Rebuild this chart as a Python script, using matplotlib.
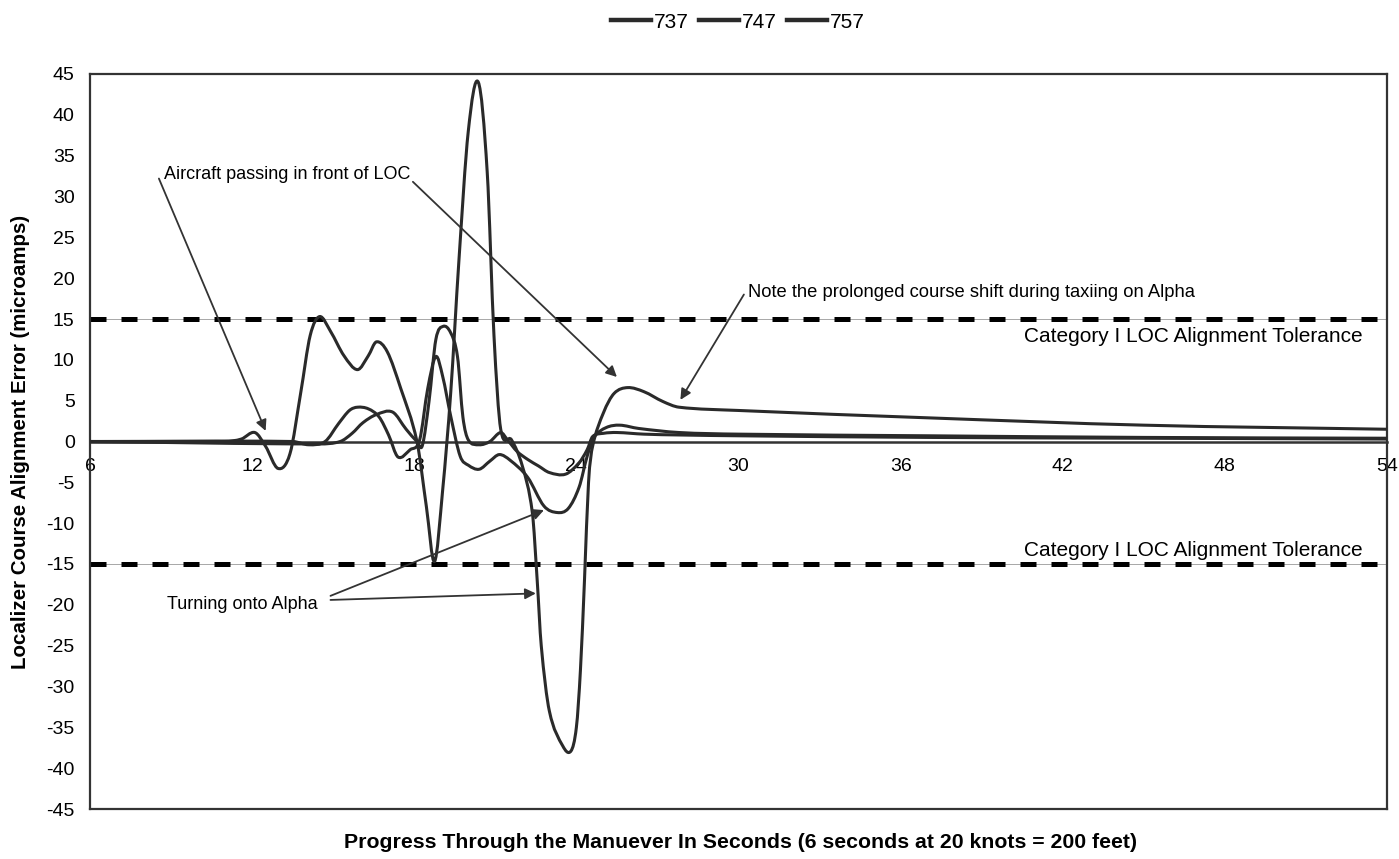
import matplotlib
matplotlib.use('Agg')
import matplotlib.pyplot as plt
from matplotlib.path import Path
from matplotlib.patches import PathPatch
from matplotlib.lines import Line2D
import numpy as np

plt.rcParams['font.family'] = ['Liberation Sans Narrow', 'Liberation Sans', 'DejaVu Sans']
plt.rcParams['axes.unicode_minus'] = False

# values (seconds, microamps)
x_737 = [6, 11.0, 11.6, 12.1, 12.5, 12.96, 13.4, 13.8, 14.15, 14.5, 14.9, 15.4, 15.9, 16.3, 16.6,
         17.0, 17.5, 18.1, 18.45, 18.75, 19.05, 19.35, 19.65, 20.0, 20.37, 20.7, 20.95, 21.2,
         21.6, 22.0, 22.37, 22.55, 22.7, 23.0, 23.5, 23.8, 24.0, 24.15, 24.3, 24.45, 24.6,
         25.0, 25.4, 25.9, 26.5, 27.2, 27.8, 30, 37, 45, 54]
y_737 = [0, 0, 0.3, 1.1, -0.6, -3.3, -1.5, 6, 13, 15.3, 13.5, 10.5, 8.8, 10.5, 12.2,
         11, 6.5, 0, -8, -14.7, -6, 6, 22, 38, 44, 33, 13, 1.5,
         0.2, -3.0, -8.7, -17, -25, -33, -37.3, -37.9, -35, -28, -17, -5, -0.6,
         3.5, 5.9, 6.6, 6.1, 4.9, 4.2, 3.8, 2.9, 2.0, 1.5]

x_747 = [6, 13.5, 14.1, 14.7, 15.2, 15.6, 15.9, 16.3, 16.7, 17.05, 17.4, 17.85, 18.2, 18.5, 18.8,
         19.05, 19.35, 19.7, 20.0, 20.4, 20.8, 21.15, 21.55, 22.2, 22.8, 23.3, 23.7, 24.1,
         24.4, 24.65, 25.1, 25.6, 26.3, 27.8, 30, 37, 45, 54]
y_747 = [0, 0, -0.4, 0, 2.2, 3.8, 4.2, 4.0, 3.0, 0.8, -1.9, -1.0, 0.2, 6.5, 10.4,
         8.0, 3.1, -1.8, -2.9, -3.4, -2.4, -1.6, -2.3, -4.4, -7.9, -8.7, -8.2, -5.6,
         -1.8, 0.5, 1.7, 2.0, 1.6, 1.1, 0.9, 0.7, 0.5, 0.4]

x_757 = [6, 14.5, 15.26, 15.7, 16.1, 16.6, 17.2, 17.7, 18.1, 18.3, 18.55, 18.8, 19.07, 19.35,
         19.6, 19.8, 20.0, 20.4, 20.8, 21.2, 21.45, 21.8, 22.2, 22.6, 23.0, 23.6, 24.1,
         24.4, 24.6, 25.0, 25.5, 26.5, 27.8, 30, 37, 45, 54]
y_757 = [0, -0.3, 0, 1.0, 2.3, 3.3, 3.6, 1.5, 0, -0.5, 5, 12.5, 14.1, 13.3,
         10.4, 3, 0.2, -0.4, 0, 1.1, 0.2, -1.2, -2.2, -3.0, -3.8, -4.0, -2.6,
         -1.0, 0.6, 1.0, 1.1, 0.9, 0.8, 0.7, 0.5, 0.4, 0.3]

series_names = ['737', '747', '757']
x_ticks = [6, 12, 18, 24, 30, 36, 42, 48, 54]
tolerance = 15

line_color = '#2a2a2a'


def smooth_path(xs, ys):
    # smoothed line like the spreadsheet option: cubic hermite segments between the points
    xs = np.asarray(xs, float)
    ys = np.asarray(ys, float)
    n = len(xs)
    m = np.zeros(n)
    for i in range(n):
        a = max(i - 1, 0)
        b = min(i + 1, n - 1)
        m[i] = (ys[b] - ys[a]) / (xs[b] - xs[a])
    verts = [(xs[0], ys[0])]
    codes = [Path.MOVETO]
    for i in range(n - 1):
        h = xs[i + 1] - xs[i]
        verts += [(xs[i] + h / 3, ys[i] + m[i] * h / 3),
                  (xs[i + 1] - h / 3, ys[i + 1] - m[i + 1] * h / 3),
                  (xs[i + 1], ys[i + 1])]
        codes += [Path.CURVE4] * 3
    return Path(verts, codes)


fig = plt.figure(figsize=(13.99, 8.59), dpi=100)
ax = fig.add_axes([90 / 1399, 1 - 809 / 859, (1387 - 90) / 1399, (809 - 74) / 859])
ax.set_xlim(6, 54)
ax.set_ylim(-45, 45)

for sp in ax.spines.values():
    sp.set_linewidth(1.6)
    sp.set_color('#333333')

# tolerance lines
for lvl in (tolerance, -tolerance):
    ax.axhline(lvl, color='#999999', lw=0.6, zorder=1)
    ax.axhline(lvl, color='black', lw=3.6, dashes=(3.2, 3.0), solid_capstyle='butt',
               dash_capstyle='butt', zorder=2)

for xs, ys in [(x_737, y_737), (x_747, y_747), (x_757, y_757)]:
    ax.add_patch(PathPatch(smooth_path(xs, ys), facecolor='none', edgecolor=line_color,
                           lw=2.2, zorder=3, capstyle='round', joinstyle='round'))

ax.set_yticks(range(-45, 46, 5))
ax.tick_params(axis='y', length=0, pad=11, labelsize=14)
ax.set_xticks([])

sec = ax.secondary_xaxis(0.5 - 1e-6)
sec.set_xticks(x_ticks)
sec.tick_params(length=0, pad=12, labelsize=14)
sec.spines['bottom'].set_linewidth(1.8)
sec.spines['bottom'].set_color('#333333')

ax.set_ylabel('Localizer Course Alignment Error (microamps)', fontsize=14.8, fontweight='bold')
ax.yaxis.set_label_coords(-(90 - 30) / 1297, 0.5)
fig.text(740 / 1399, 1 - 843 / 859,
         'Progress Through the Manuever In Seconds (6 seconds at 20 knots = 200 feet)',
         ha='center', va='center', fontsize=15.3, fontweight='bold')

# annotations
arrow = dict(arrowstyle='-|>', color='#333333', lw=1.3, mutation_scale=16,
             shrinkA=0, shrinkB=0)
ax.text(8.75, 32.7, 'Aircraft passing in front of LOC', fontsize=13, va='center', ha='left')
ax.annotate('', xy=(12.5, 1.3), xytext=(8.55, 32.2), arrowprops=arrow)
ax.annotate('', xy=(25.5, 7.9), xytext=(17.95, 31.8), arrowprops=arrow)

ax.text(30.35, 18.3, 'Note the prolonged course shift during taxiing on Alpha', fontsize=13.2,
        va='center', ha='left')
ax.annotate('', xy=(27.85, 5.1), xytext=(30.2, 18.0), arrowprops=arrow)

ax.text(53.1, 12.9, 'Category I LOC Alignment Tolerance', fontsize=15, va='center', ha='right')
ax.text(53.1, -13.3, 'Category I LOC Alignment Tolerance', fontsize=15, va='center', ha='right')

ax.text(8.85, -20.0, 'Turning onto Alpha', fontsize=13, va='center', ha='left')
ax.annotate('', xy=(22.8, -8.4), xytext=(14.9, -18.9), arrowprops=arrow)
ax.annotate('', xy=(22.5, -18.6), xytext=(14.9, -19.4), arrowprops=arrow)

handles = [Line2D([], [], color=line_color, lw=3.2) for _ in series_names]
fig.legend(handles, series_names, ncol=3, loc='center', bbox_to_anchor=(738 / 1399, 1 - 22 / 859),
           frameon=False, fontsize=15, handlelength=1.9, handletextpad=0.15, columnspacing=0.5)

fig.savefig('out.png', dpi=100)
